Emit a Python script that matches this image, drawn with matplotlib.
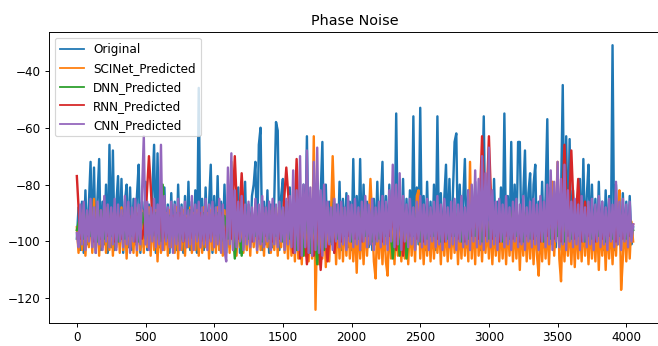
import numpy as np
import matplotlib
matplotlib.use('Agg')
import matplotlib.pyplot as plt

# sample spacing of the read-off points for each series
fine = 12.5
coarse = 25

original = [
    -99, -88, -103, -86, -104, -82, -101, -87, -72, -102, -74, -104, -85, -71, -103, -86, -101, -80, -104, -66,
    -102, -68, -103, -87, -77, -101, -78, -104, -86, -80, -102, -81, -103, -85, -101, -84, -73, -104, -86, -102,
    -79, -103, -87, -101, -82, -66, -104, -69, -102, -86, -103, -81, -101, -87, -104, -83, -102, -86, -103, -80,
    -101, -87, -104, -84, -102, -79, -103, -86, -101, -82, -104, -46, -102, -85, -103, -81, -101, -87, -73, -104,
    -84, -102, -77, -103, -86, -101, -80, -104, -87, -102, -83, -103, -85, -101, -81, -104, -86, -102, -79, -103,
    -87, -101, -84, -80, -72, -102, -66, -60, -103, -86, -101, -82, -104, -87, -102, -85, -58, -61, -103, -84,
    -78, -102, -86, -103, -81, -101, -87, -104, -83, -102, -86, -103, -80, -101, -63, -104, -85, -102, -82, -103,
    -87, -101, -84, -65, -102, -80, -103, -86, -101, -82, -104, -87, -102, -79, -103, -85, -101, -83, -102, -86,
    -103, -71, -101, -84, -102, -71, -103, -80, -101, -86, -102, -82, -103, -85, -101, -79, -102, -86, -72, -103,
    -84, -101, -80, -102, -86, -103, -55, -101, -83, -102, -78, -103, -85, -101, -82, -102, -56, -103, -81, -101,
    -53, -102, -84, -103, -79, -101, -86, -102, -80, -103, -56, -101, -83, -102, -85, -73, -101, -78, -102, -84,
    -65, -62, -103, -80, -101, -86, -71, -102, -82, -103, -85, -101, -79, -102, -84, -103, -86, -56, -101, -80,
    -102, -83, -103, -78, -101, -86, -102, -81, -103, -55, -101, -84, -102, -65, -103, -80, -101, -65, -65, -102,
    -84, -68, -101, -83, -76, -102, -80, -73, -103, -86, -101, -79, -102, -84, -57, -103, -81, -101, -85, -102,
    -80, -103, -84, -45, -101, -63, -102, -64, -103, -82, -101, -86, -102, -78, -103, -71, -101, -84, -73, -102,
    -80, -103, -85, -101, -79, -102, -86, -103, -82, -101, -84, -102, -31, -103, -80, -101, -85, -102, -83, -101,
    -86, -102, -84, -101, -95,
]

scinet = [
    -95, -104, -90, -103, -89, -105, -91, -102, -88, -104, -85, -103, -90, -105, -89, -102, -91, -104, -88, -103,
    -90, -105, -89, -102, -91, -104, -88, -103, -90, -106, -89, -102, -91, -104, -88, -105, -90, -103, -89, -104,
    -91, -102, -88, -105, -90, -103, -89, -107, -91, -104, -88, -103, -90, -105, -89, -102, -91, -104, -88, -106,
    -90, -103, -89, -105, -91, -102, -88, -104, -90, -103, -89, -105, -91, -104, -88, -102, -90, -106, -89, -103,
    -91, -104, -88, -103, -90, -105, -89, -102, -91, -104, -72, -103, -88, -105, -90, -102, -89, -104, -91, -103,
    -88, -105, -90, -102, -89, -104, -91, -103, -88, -105, -90, -102, -89, -104, -91, -103, -88, -105, -90, -102,
    -89, -104, -91, -106, -88, -105, -90, -107, -89, -106, -91, -108, -88, -105, -90, -107, -89, -106, -63, -124,
    -91, -108, -89, -106, -90, -109, -88, -107, -91, -70, -89, -108, -90, -106, -88, -107, -91, -105, -89, -106,
    -92, -107, -93, -111, -92, -106, -93, -108, -92, -105, -93, -78, -92, -107, -113, -93, -106, -92, -108, -93,
    -107, -112, -92, -106, -93, -108, -92, -105, -93, -107, -92, -106, -93, -108, -92, -105, -93, -107, -84, -82,
    -106, -92, -108, -93, -105, -92, -107, -93, -106, -92, -104, -93, -108, -92, -105, -93, -107, -92, -106, -93,
    -104, -92, -108, -93, -106, -92, -105, -93, -107, -72, -106, -92, -108, -86, -105, -93, -107, -92, -104, -93,
    -106, -92, -108, -93, -105, -92, -107, -93, -106, -92, -108, -93, -105, -92, -107, -93, -106, -92, -110, -93,
    -105, -92, -107, -93, -106, -92, -108, -93, -105, -112, -93, -107, -92, -106, -93, -108, -92, -79, -105, -93,
    -72, -106, -114, -92, -107, -93, -105, -92, -108, -93, -109, -92, -106, -93, -107, -92, -105, -93, -108, -92,
    -106, -93, -107, -92, -110, -93, -105, -92, -110, -93, -106, -92, -108, -93, -105, -92, -82, -117, -106, -93,
    -107, -92, -106, -93, -100,
]

dnn = [
    -96, -91, -99, -90, -98, -92, -100, -89, -99, -91,
    -98, -90, -100, -91, -99, -89, -98, -92, -100, -90,
    -99, -91, -98, -90, -100, -80, -99, -91, -98, -90,
    -100, -91, -99, -89, -98, -92, -100, -90, -99, -91,
    -98, -90, -100, -91, -99, -89, -106, -92, -105, -90,
    -99, -91, -98, -90, -100, -91, -99, -89, -98, -92,
    -100, -90, -99, -91, -103, -90, -105, -89, -104, -91,
    -108, -90, -103, -91, -100, -89, -99, -92, -98, -90,
    -100, -91, -99, -89, -98, -92, -100, -90, -99, -91,
    -98, -90, -106, -91, -105, -89, -106, -92, -98, -90,
    -100, -91, -99, -89, -98, -92, -100, -90, -99, -91,
    -98, -90, -100, -91, -99, -89, -98, -92, -100, -90,
    -99, -91, -98, -90, -100, -91, -99, -89, -98, -92,
    -100, -90, -99, -91, -98, -90, -100, -91, -99, -89,
    -98, -92, -100, -90, -99, -91, -98, -90, -100, -91,
    -99, -89, -98, -92, -100, -90, -99, -91, -98, -90,
    -99, -92, -96,
]

rnn = [
    -77, -99, -92, -98, -91, -100, -90, -99, -92, -98,
    -91, -100, -90, -99, -92, -98, -91, -100, -90, -99,
    -92, -70, -91, -98, -90, -100, -92, -99, -91, -98,
    -90, -100, -92, -99, -91, -98, -90, -100, -92, -99,
    -91, -98, -90, -100, -92, -99, -70, -99, -76, -98,
    -91, -100, -90, -99, -92, -98, -91, -100, -90, -99,
    -92, -74, -91, -104, -71, -106, -90, -108, -92, -105,
    -90, -110, -91, -107, -92, -104, -90, -100, -91, -98,
    -92, -99, -90, -100, -91, -98, -92, -99, -90, -100,
    -91, -98, -92, -103, -90, -105, -91, -98, -92, -99,
    -90, -100, -91, -98, -92, -99, -90, -100, -91, -98,
    -92, -99, -90, -100, -91, -98, -92, -99, -63, -98,
    -63, -99, -90, -100, -91, -98, -92, -99, -90, -100,
    -91, -98, -92, -99, -90, -100, -91, -98, -92, -99,
    -90, -100, -66, -98, -68, -99, -78, -100, -86, -98,
    -91, -100, -90, -99, -92, -98, -91, -100, -90, -99,
    -91, -98, -94,
]

cnn = [
    -97, -102, -87, -101, -86, -103, -89, -100, -85, -102, -88, -104, -86, -101, -89, -103, -84, -100, -87, -102,
    -88, -101, -85, -103, -87, -100, -89, -102, -84, -101, -86, -104, -88, -100, -85, -103, -87, -101, -82, -63,
    -101, -86, -103, -88, -100, -85, -102, -87, -101, -66, -103, -84, -100, -88, -102, -86, -104, -87, -101, -85,
    -103, -88, -100, -86, -102, -89, -101, -84, -103, -87, -100, -86, -102, -88, -101, -85, -103, -87, -100, -86,
    -102, -88, -101, -85, -104, -87, -103, -107, -74, -101, -69, -103, -82, -102, -86, -100, -84, -103, -87, -101,
    -86, -102, -88, -100, -85, -103, -87, -101, -84, -102, -88, -100, -86, -103, -85, -101, -87, -102, -86, -100,
    -88, -103, -85, -101, -84, -102, -75, -104, -82, -103, -70, -105, -80, -102, -68, -104, -81, -105, -72, -103,
    -67, -104, -82, -105, -80, -102, -86, -101, -88, -103, -85, -100, -87, -102, -86, -101, -88, -103, -84, -100,
    -87, -102, -85, -101, -88, -103, -86, -100, -84, -102, -87, -101, -85, -103, -88, -100, -86, -102, -84, -101,
    -86, -103, -82, -100, -73, -102, -80, -101, -76, -103, -84, -100, -87, -102, -85, -101, -88, -103, -86, -100,
    -84, -102, -87, -101, -85, -103, -88, -100, -86, -102, -84, -101, -87, -103, -85, -100, -88, -102, -86, -101,
    -85, -103, -87, -100, -84, -102, -88, -101, -82, -103, -80, -100, -75, -102, -78, -101, -70, -103, -76, -100,
    -67, -102, -82, -101, -86, -103, -85, -100, -87, -102, -84, -101, -88, -103, -86, -100, -85, -102, -87, -101,
    -84, -103, -88, -100, -86, -102, -85, -101, -87, -103, -84, -100, -86, -102, -80, -101, -75, -103, -79, -100,
    -72, -102, -78, -101, -73, -103, -82, -100, -86, -102, -85, -101, -87, -103, -84, -100, -88, -102, -86, -101,
    -85, -103, -87, -100, -84, -102, -86, -101, -88, -103, -85, -100, -87, -102, -79, -101, -86, -103, -85, -100,
    -87, -102, -86, -100, -94,
]

series = [
    ('Original', original, fine),
    ('SCINet_Predicted', scinet, fine),
    ('DNN_Predicted', dnn, coarse),
    ('RNN_Predicted', rnn, coarse),
    ('CNN_Predicted', cnn, fine),
]

# the reference was rendered at a smaller scale, so use a lower dpi
dpi = 86
fig = plt.figure(figsize=(658 / dpi, 346 / dpi), dpi=dpi)
ax = fig.add_axes([0.0745, 0.0665, 0.930, 0.841])
for name, vals, step in series:
    x = np.arange(len(vals)) * step
    ax.plot(x, vals, lw=2.0, label=name)

ax.set_title('Phase Noise')
leg = ax.legend(loc='upper left')
for h in leg.get_lines():
    h.set_linewidth(1.5)
fig.savefig('out.png', dpi=dpi)
